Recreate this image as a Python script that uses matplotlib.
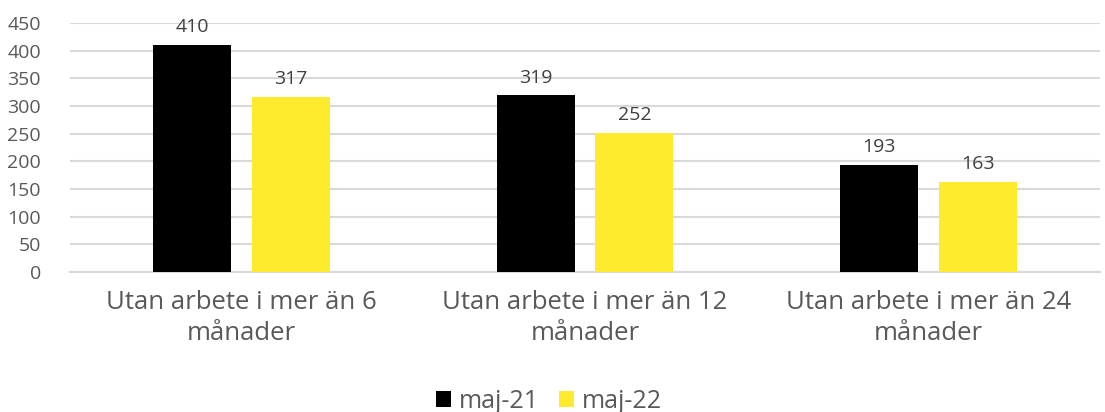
import numpy as np
import matplotlib
matplotlib.use('Agg')
import matplotlib.pyplot as plt

categories = ['Utan arbete i mer än 6\nmånader',
              'Utan arbete i mer än 12\nmånader',
              'Utan arbete i mer än 24\nmånader']
series_names = ['maj-21', 'maj-22']
maj21 = [410, 319, 193]
maj22 = [317, 252, 163]
yticks = [0, 50, 100, 150, 200, 250, 300, 350, 400, 450]

plt.rcParams['font.family'] = ['Open Sans', 'DejaVu Sans']

fig = plt.figure(figsize=(11.05, 4.12), dpi=100)
ax = fig.add_axes([70 / 1105, 1 - 272 / 412, 1030 / 1105, 249 / 412])

x = np.arange(len(categories))
w = 0.227
off = 0.144
b1 = ax.bar(x - off, maj21, w, color='black', label=series_names[0], zorder=3)
b2 = ax.bar(x + off, maj22, w, color='#FFEB2D', label=series_names[1], zorder=3)

for bars in (b1, b2):
    for rect in bars:
        ax.text(rect.get_x() + rect.get_width() / 2, rect.get_height() + 16,
                f'{int(rect.get_height())}', ha='center', va='bottom',
                fontsize=14, color='#404040')

ax.set_xlim(-0.5, 2.5)
ax.set_ylim(0, 450)
ax.set_yticks(yticks)
ax.yaxis.grid(True, color='#D9D9D9', linewidth=1.5, zorder=0)
ax.set_axisbelow(True)
for s in ['top', 'right', 'left']:
    ax.spines[s].set_visible(False)
ax.spines['bottom'].set_color('#D9D9D9')
ax.spines['bottom'].set_linewidth(1.5)
ax.tick_params(axis='both', length=0, colors='#595959')
ax.tick_params(axis='y', labelsize=14, pad=21)
ax.set_xticks(x)
ax.set_xticklabels(categories, fontsize=18.5, linespacing=1.3)
ax.tick_params(axis='x', pad=13)

ax.legend(loc='lower center', bbox_to_anchor=(0.465, -0.66), ncol=2, frameon=False,
          fontsize=18, handlelength=0.6, handleheight=0.6, handletextpad=0.3,
          columnspacing=0.8, labelcolor='#595959')

fig.savefig('out.png', dpi=100)
